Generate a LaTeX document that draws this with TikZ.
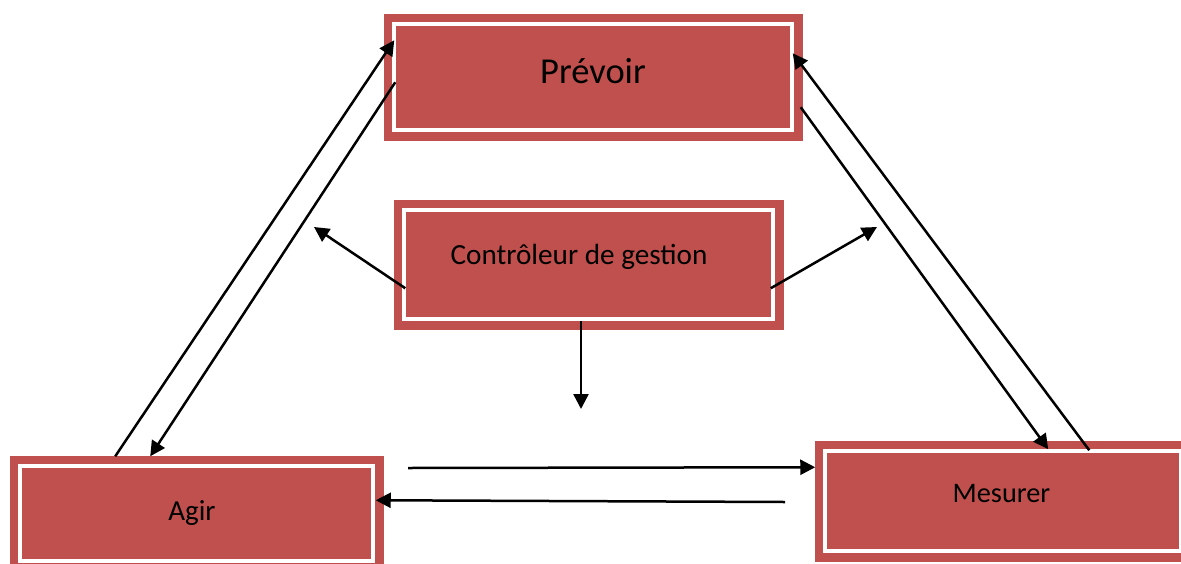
\documentclass[tikz,border=0pt]{standalone}
\usepackage{fontspec}
\setmainfont{Carlito}
\usetikzlibrary{arrows.meta,calc}
\definecolor{boxred}{HTML}{C0504D}
\tikzset{
  frame/.style={rectangle, fill=boxred, draw=white, line width=3.5pt, inner sep=0pt,
    preaction={draw=boxred, line width=21pt}},
  caption/.style={anchor=base, inner sep=0pt, text=black},
  arr/.style={line width=2.5pt, -{Triangle[length=15pt,width=15pt]}}
}
\begin{document}
\begin{tikzpicture}[x=1pt,y=-1pt]
\useasboundingbox (0,0) rectangle (1181,563);

% the four framed boxes
\node[frame, minimum width=398pt, minimum height=106pt] (prev) at (593,77) {};
\node[frame, minimum width=369pt, minimum height=109pt] (ctrl) at (588.5,264.5) {};
\node[frame, minimum width=353pt, minimum height=95pt] (agir) at (196.5,513.5) {};
\node[frame, minimum width=355.5pt, minimum height=100pt] (mes) at (1002.75,501) {};

% box captions
\node[caption, font=\fontsize{36.5}{40}\selectfont] (prev-text) at (593,83) {Prévoir};
\node[caption, font=\fontsize{29.2}{33}\selectfont] (ctrl-text) at (579,264.3) {Contrôleur de gestion};
\node[caption, font=\fontsize{29}{33}\selectfont] (agir-text) at (192,520) {Agir};
\node[caption, font=\fontsize{28.3}{32}\selectfont] (mes-text) at (1001.5,502.7) {Mesurer};

% free ends of the open arrows
\coordinate (ctrl-left) at (314,227);
\coordinate (ctrl-right) at (877,227);
\coordinate (ctrl-down) at (581,409);
\coordinate (act-start) at (408,468);
\coordinate (meas-start) at (785,502);

% connectors between Prévoir, Agir and Mesurer
\draw[arr] ($(agir.north west)+(97,-8)$) -- ($(prev.north west)+(2,18)$);
\draw[arr] ($(prev.north west)+(3,60)$) -- ($(agir.north west)+(132,-8)$);
\draw[arr] ($(mes.north west)+(266,1)$) -- ($(prev.north east)+(-1,31)$);
\draw[arr] ($(prev.north east)+(7,85)$) -- ($(mes.north west)+(225,0)$);
\draw[arr] (act-start) -- ($(mes.north west)+(-8,18)$);
\draw[arr] (meas-start) -- ($(agir.north east)+(1,36)$);

% arrows leaving the controller
\draw[arr] ($(ctrl.north west)+(3,80)$) -- (ctrl-left);
\draw[arr] ($(ctrl.north east)+(-4,80)$) -- (ctrl-right);
\draw[arr] ($(ctrl.south)+(-7.5,0)$) -- (ctrl-down);
\end{tikzpicture}
\end{document}
